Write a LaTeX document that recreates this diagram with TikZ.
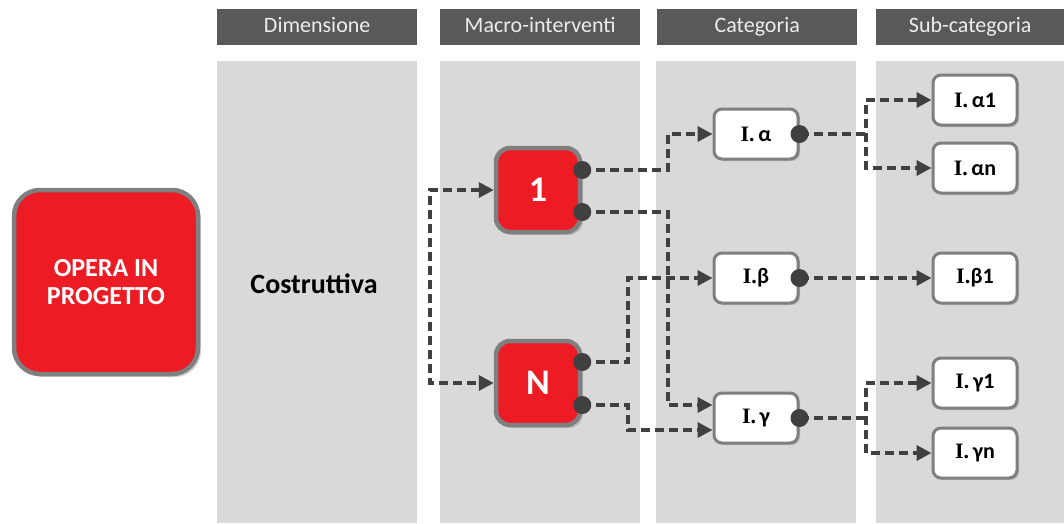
\documentclass[tikz,border=0pt]{standalone}
\usepackage{fontspec}
\setmainfont{Carlito}
\newfontfamily\serI{Liberation Serif}
\usetikzlibrary{arrows.meta,shadows,calc}
\definecolor{hdrgray}{HTML}{595959}
\definecolor{hdrtext}{HTML}{EDEDED}
\definecolor{panelgray}{HTML}{D9D9D9}
\definecolor{myred}{HTML}{ED1C24}
\definecolor{bordergray}{HTML}{7F7F7F}
\definecolor{linegray}{HTML}{404040}
\newcommand{\lab}[2]{{\serI\bfseries #1}\,\bfseries #2}
\tikzset{
  hdr/.style={fill=hdrgray, text=hdrtext, font=\fontsize{22}{26}\selectfont, minimum width=200, minimum height=36, inner sep=0, anchor=north west, text height=15, text depth=4},
  panel/.style={fill=panelgray, minimum width=200, minimum height=462, inner sep=0, anchor=north west},
  redbox/.style={rounded corners=14, fill=myred, draw=bordergray, line width=4.5, text=white, inner sep=0,
    drop shadow={opacity=0.35, shadow xshift=3pt, shadow yshift=-3pt}},
  wbox/.style={rounded corners=8, fill=white, draw=bordergray, line width=3, minimum width=84, minimum height=50, inner sep=0,
    font=\fontsize{22}{26}\selectfont,
    drop shadow={opacity=0.35, shadow xshift=2pt, shadow yshift=-2pt}},
  conn/.style={draw=linegray, line width=3.6, dash pattern=on 9pt off 5pt},
  tip/.style={-{Triangle[length=15pt,width=15pt]}},
  tips/.style={{Triangle[length=15pt,width=15pt]}-{Triangle[length=15pt,width=15pt]}},
  dotc/.style={fill=linegray}
}
\begin{document}
\begin{tikzpicture}[x=1pt,y=-1pt]
\useasboundingbox (0,0) rectangle (1064,523);
% headers
\node[hdr] (h1) at (217,9) {Dimensione};
\node[hdr] (h2) at (440,9) {Macro-interventi};
\node[hdr] (h3) at (657,9) {Categoria};
\node[hdr, minimum width=188] (h4) at (876,9) {Sub-categoria};
% panels
\node[panel] (p1) at (217,61) {};
\node[panel] (p2) at (440,61) {};
\node[panel] (p3) at (656,61) {};
\node[panel, minimum width=188] (p4) at (876,61) {};
% main box
\node[redbox, rounded corners=26, minimum width=184, minimum height=184, align=center,
  font=\fontsize{26}{28}\selectfont\bfseries] (op) at (106,282) {OPERA IN\\PROGETTO};
\node[font=\fontsize{28}{30}\selectfont\bfseries] (cos) at (314,284) {Costruttiva};
% macro nodes
\node[redbox, minimum width=84, minimum height=84, font=\fontsize{36}{38}\selectfont\bfseries] (n1) at (538,190) {1};
\node[redbox, minimum width=84, minimum height=84, font=\fontsize{36}{38}\selectfont\bfseries] (nN) at (538,383) {N};
% categories
\node[wbox] (ca) at (756,134) {\lab{I.}{α}};
\node[wbox] (cb) at (756,278) {\lab{I.}{\kern-0.15em β}};
\node[wbox] (cg) at (756,418) {\lab{I.}{γ}};
% sub categories
\node[wbox] (a1) at (975,100) {\lab{I.}{α1}};
\node[wbox] (an) at (975,168) {\lab{I.}{αn}};
\node[wbox] (b1) at (975,278) {\lab{I.}{\kern-0.15em β1}};
\node[wbox] (g1) at (975,383) {\lab{I.}{γ1}};
\node[wbox] (gn) at (975,453) {\lab{I.}{γn}};
% helper coordinates
\coordinate (fk) at (430,383);
\coordinate (x1) at (668,0);
\coordinate (x2) at (628,0);
\coordinate (x3) at (866,0);
\coordinate (d1a) at ($(n1.east)+(0,-20)$);
\coordinate (d1b) at ($(n1.east)+(0,22)$);
\coordinate (dNa) at ($(nN.east)+(0,-21)$);
\coordinate (dNb) at ($(nN.east)+(0,22)$);
\coordinate (ta) at ($(cg.west)+(0,-13)$);
\coordinate (tb) at ($(cg.west)+(0,12)$);
% connectors
\draw[conn, tips] (n1.west) -| (fk) -- (nN.west);
\draw[conn, tip] (d1a) -- (d1a -| x1) |- (ca.west);
\draw[conn, tip] (d1b) -- (d1b -| x1) |- (ta);
\draw[conn, tip] (dNa) -- (dNa -| x2) |- (cb.west);
\draw[conn, tip] (dNb) -- (dNb -| x2) |- (tb);
\draw[conn] (ca.east) -- (ca.east -| x3);
\draw[conn, tips] (a1.west) -| (x3 |- an.west) -- (an.west);
\draw[conn, tip] (cb.east) -- (b1.west);
\draw[conn] (cg.east) -- (cg.east -| x3);
\draw[conn, tips] (g1.west) -| (x3 |- gn.west) -- (gn.west);
% dots
\fill[dotc] (d1a) circle (9);
\fill[dotc] (d1b) circle (9);
\fill[dotc] (dNa) circle (9);
\fill[dotc] (dNb) circle (9);
\fill[dotc] (ca.east) circle (9);
\fill[dotc] (cb.east) circle (9);
\fill[dotc] (cg.east) circle (9);
\end{tikzpicture}
\end{document}
